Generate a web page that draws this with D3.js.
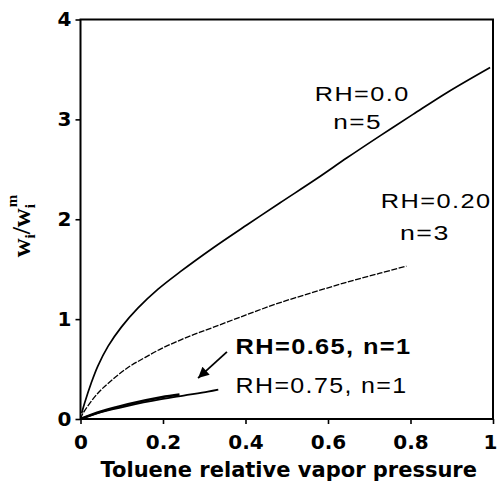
<!DOCTYPE html>
<html>
<head>
<meta charset="utf-8">
<script src="https://cdn.jsdelivr.net/npm/d3@7"></script>
<style>
  html, body { margin: 0; padding: 0; background: #fff; }
  svg { display: block; }
</style>
</head>
<body>
<div id="chart"></div>
<script>
// toluene relative vapor pressure vs w_i / w_i^m
const xTicks = [0, 0.2, 0.4, 0.6, 0.8, 1];
const yTicks = [0, 1, 2, 3, 4];

const pressureRH00 = [0.003, 0.010, 0.026, 0.042, 0.067, 0.099, 0.139, 0.188, 0.242, 0.322, 0.404, 0.484, 0.574, 0.646, 0.726, 0.806, 0.889, 0.993];
const ratioRH00    = [0.06, 0.16, 0.36, 0.53, 0.73, 0.92, 1.11, 1.30, 1.475, 1.715, 1.945, 2.165, 2.41, 2.615, 2.835, 3.05, 3.27, 3.52];

const pressureRH20 = [0, 0.006, 0.042, 0.075, 0.115, 0.156, 0.196, 0.236, 0.277, 0.32, 0.40, 0.48, 0.565, 0.646, 0.726, 0.79];
const ratioRH20    = [0, 0.057, 0.258, 0.385, 0.515, 0.615, 0.705, 0.78, 0.85, 0.915, 1.04, 1.16, 1.27, 1.37, 1.46, 1.53];

const pressureRH65 = [0, 0.05, 0.115, 0.196, 0.24];
const ratioRH65    = [0, 0.075, 0.148, 0.218, 0.245];

const pressureRH75 = [0, 0.05, 0.115, 0.196, 0.25, 0.309, 0.334];
const ratioRH75    = [0, 0.068, 0.132, 0.198, 0.235, 0.275, 0.295];

const labelText = ["RH=0.0", "n=5", "RH=0.20", "n=3", "RH=0.65, n=1", "RH=0.75, n=1"];
const labelX    = [0.683, 0.672, 0.862, 0.835, 0.376, 0.376];
const labelY    = [3.18, 2.90, 2.115, 1.795, 0.652, 0.262];

const arrowFrom = [0.355, 0.672];
const arrowTo   = [0.285, 0.41];

const width  = 497;
const height = 483;
const margin = { top: 19.5, right: 4, bottom: 64, left: 80.5 };
const plotW  = width - margin.left - margin.right;
const plotH  = height - margin.top - margin.bottom;

const svg = d3.select("#chart")
  .append("svg")
  .attr("width", width)
  .attr("height", height);

const g = svg.append("g")
  .attr("transform", `translate(${margin.left},${margin.top})`);

const x = d3.scaleLinear().domain([0, 1]).range([0, plotW]);
const y = d3.scaleLinear().domain([0, 4]).range([plotH, 0]);

const tickFont  = "'DejaVu Sans', sans-serif";
const labelFont = "'Liberation Sans', Arial, sans-serif";

// axes
const xAxis = g.append("g")
  .attr("transform", `translate(0,${plotH})`)
  .call(d3.axisBottom(x)
    .tickValues(xTicks)
    .tickSize(5)
    .tickPadding(11)
    .tickFormat(d => d === 0 || d === 1 ? d3.format("d")(d) : d3.format(".1f")(d)));

const yAxis = g.append("g")
  .call(d3.axisLeft(y)
    .tickValues(yTicks)
    .tickSize(5)
    .tickPadding(4)
    .tickFormat(d3.format("d")));

[xAxis, yAxis].forEach(ax => {
  ax.select(".domain").remove();
  ax.selectAll(".tick line")
    .attr("stroke", "#000")
    .attr("stroke-width", 1.6);
  ax.selectAll(".tick text")
    .attr("fill", "#000")
    .attr("font-family", tickFont)
    .attr("font-weight", "bold")
    .attr("font-size", 20);
});

// last x label sits on the picture edge
xAxis.selectAll(".tick text")
  .filter(d => d === 1)
  .attr("text-anchor", "end")
  .attr("dx", 4);

// frame
g.append("rect")
  .attr("x", 0)
  .attr("y", 0)
  .attr("width", plotW)
  .attr("height", plotH)
  .attr("fill", "none")
  .attr("stroke", "#000")
  .attr("stroke-width", 2);

// curves
const line = d3.line()
  .x(d => x(d[0]))
  .y(d => y(d[1]))
  .curve(d3.curveCatmullRom.alpha(0.5));

const series = [
  { xs: pressureRH00, ys: ratioRH00, w: 1.7, dash: null },
  { xs: pressureRH20, ys: ratioRH20, w: 1.3, dash: "6 1.5" },
  { xs: pressureRH65, ys: ratioRH65, w: 2.6, dash: null },
  { xs: pressureRH75, ys: ratioRH75, w: 1.8, dash: null },
];

series.forEach(s => {
  g.append("path")
    .datum(s.xs.map((v, i) => [v, s.ys[i]]))
    .attr("fill", "none")
    .attr("stroke", "#000")
    .attr("stroke-width", s.w)
    .attr("stroke-dasharray", s.dash)
    .attr("d", line);
});

// arrow
svg.append("defs")
  .append("marker")
  .attr("id", "head")
  .attr("viewBox", "0 0 10 10")
  .attr("refX", 10)
  .attr("refY", 5)
  .attr("markerWidth", 8)
  .attr("markerHeight", 6)
  .attr("markerUnits", "strokeWidth")
  .attr("orient", "auto")
  .append("path")
  .attr("d", "M0,0 L10,5 L0,10 z")
  .attr("fill", "#000");

g.append("line")
  .attr("x1", x(arrowFrom[0]))
  .attr("y1", y(arrowFrom[1]))
  .attr("x2", x(arrowTo[0]))
  .attr("y2", y(arrowTo[1]))
  .attr("stroke", "#000")
  .attr("stroke-width", 1.8)
  .attr("marker-end", "url(#head)");

// curve labels, stretched sideways like the wide original lettering
const labelStyle = [
  { anchor: "middle", weight: "normal", size: 21, len: 95 },
  { anchor: "middle", weight: "normal", size: 21, len: 49 },
  { anchor: "middle", weight: "normal", size: 21, len: 111 },
  { anchor: "middle", weight: "normal", size: 21, len: 50 },
  { anchor: "start",  weight: "bold",   size: 22, len: 176 },
  { anchor: "start",  weight: "normal", size: 22, len: 172 },
];

labelText.forEach((t, i) => {
  const st = labelStyle[i];
  const lab = g.append("text")
    .attr("text-anchor", st.anchor)
    .attr("font-family", labelFont)
    .attr("font-weight", st.weight)
    .attr("font-size", st.size)
    .attr("letter-spacing", 1.2)
    .attr("fill", "#000")
    .text(t);
  const natural = lab.node().getComputedTextLength();
  const sx = st.len / natural;
  lab.attr("transform", `translate(${x(labelX[i])},${y(labelY[i])}) scale(${sx},1)`);
});

// axis titles
svg.append("text")
  .attr("x", margin.left + plotW / 2 + 2)
  .attr("y", 477)
  .attr("text-anchor", "middle")
  .attr("font-family", tickFont)
  .attr("font-weight", "bold")
  .attr("font-size", 21)
  .attr("fill", "#000")
  .text("Toluene relative vapor pressure");

const yTitle = svg.append("text")
  .attr("transform", "translate(30,226) rotate(-90)")
  .attr("text-anchor", "middle")
  .attr("font-family", "'Liberation Serif', 'Times New Roman', serif")
  .attr("font-weight", "bold")
  .attr("font-size", 26)
  .attr("fill", "#000");

yTitle.append("tspan").text("w");
yTitle.append("tspan").attr("font-size", 15).attr("dy", 5).text("i");
yTitle.append("tspan").attr("dy", -5).text("/w");
yTitle.append("tspan").attr("font-size", 15).attr("dy", 5).text("i");
yTitle.append("tspan").attr("font-size", 15).attr("dx", -3).attr("dy", -18).text("m");
</script>
</body>
</html>
